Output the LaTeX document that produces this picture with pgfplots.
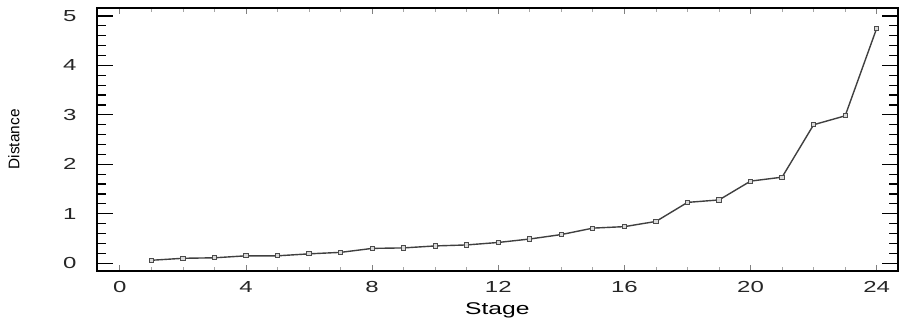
\documentclass[border=0pt]{standalone}
\usepackage{pgfplots}
\pgfplotsset{compat=1.18}
\usepackage{fontspec}
\setmainfont{Liberation Sans}
\begin{document}
\begin{tikzpicture}
\begin{axis}[
  scale only axis,
  width=401pt, height=131.5pt,
  xmin=-0.73, xmax=24.67,
  ymin=-0.15, ymax=5.16,
  xtick={0,4,...,24},
  ytick={0,1,...,5},
  minor x tick num=3,
  minor y tick num=4,
  tick align=inside,
  axis line style={line width=0.9pt, black},
  xtick style={gray, line width=0.5pt, /pgfplots/major tick length=3pt},
  minor x tick style={gray!70, line width=0.4pt, /pgfplots/minor tick length=2pt},
  ytick style={black, line width=0.6pt, /pgfplots/major tick length=8pt},
  minor y tick style={black, line width=0.6pt, /pgfplots/minor tick length=4.5pt},
  ytick pos=both,
  xtick pos=both,
  xticklabel pos=bottom,
  yticklabel pos=left,
  /pgf/number format/assume math mode=true,
  tick label style={font=\fontsize{8}{9}\selectfont, text=black!85, xscale=1.5},
  xticklabel style={yshift=-2pt},
  yticklabel style={xshift=-3.3pt},
  xlabel={Stage},
  ylabel={Distance},
  xlabel style={font=\fontsize{8.5}{10}\selectfont, xscale=1.45, at={(axis description cs:0.5,-0.15)}, anchor=center},
  ylabel style={font=\fontsize{7.7}{9}\selectfont, at={(axis description cs:-0.1035,0.5)}, anchor=center},
  clip=false,
]
\addplot[color=black!75, line width=0.7pt, mark=square*, mark size=1.05pt,
  mark options={fill=black!15, draw=black!70, line width=0.5pt}]
coordinates {
(1,0.06) (2,0.10) (3,0.11) (4,0.15) (5,0.15) (6,0.19) (7,0.22) (8,0.30)
(9,0.31) (10,0.35) (11,0.37) (12,0.42) (13,0.49) (14,0.58) (15,0.71)
(16,0.74) (17,0.845) (18,1.23) (19,1.28) (20,1.66) (21,1.74) (22,2.80)
(23,2.98) (24,4.75)
};
\coordinate (sw) at (rel axis cs:0,0);
\coordinate (ne) at (rel axis cs:1,1);
\end{axis}
\path ([xshift=-48.5pt,yshift=-27pt]sw) rectangle ([xshift=0.5pt,yshift=4pt]ne);
\end{tikzpicture}
\end{document}
